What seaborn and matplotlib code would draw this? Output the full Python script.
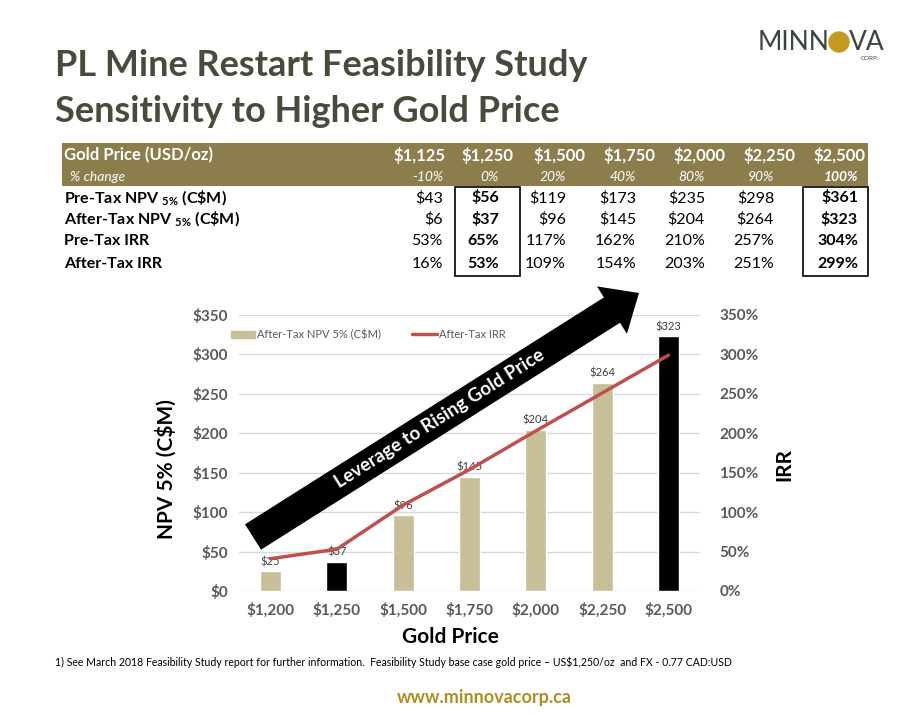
import matplotlib
matplotlib.use("Agg")
import matplotlib.pyplot as plt
from matplotlib.patches import Rectangle, Patch, Circle
from matplotlib.lines import Line2D
from matplotlib.ticker import FuncFormatter
import seaborn as sns
import numpy as np

# ---- chart data ----
chart_prices = ["$1,200", "$1,250", "$1,500", "$1,750", "$2,000", "$2,250", "$2,500"]
after_tax_npv = [25, 37, 96, 145, 204, 264, 323]
after_tax_irr = [41, 53, 109, 154, 203, 251, 299]
highlight = ["$1,250", "$2,500"]

# ---- table data ----
table_prices = ["$1,125", "$1,250", "$1,500", "$1,750", "$2,000", "$2,250", "$2,500"]
pct_change = ["-10%", "0%", "20%", "40%", "80%", "90%", "100%"]
pre_tax_npv_tbl = [43, 56, 119, 173, 235, 298, 361]
after_tax_npv_tbl = [6, 37, 96, 145, 204, 264, 323]
pre_tax_irr_tbl = [53, 65, 117, 162, 210, 257, 304]
after_tax_irr_tbl = [16, 53, 109, 154, 203, 251, 299]
bold_cols = [1, 6]

TAN = "#c8be98"
RED = "#c0504d"
OLIVE = "#8b7e4c"
TITLE = "#4a4a3c"
GRAY = "#595959"

sns.set_theme(style="whitegrid")
plt.rcParams["font.family"] = ["Lato", "DejaVu Sans"]
plt.rcParams["mathtext.default"] = "regular"

W, H = 914, 717
fig = plt.figure(figsize=(W / 100, H / 100), dpi=100)

# ---- chart ----
ax = fig.add_axes([239 / W, 1 - 591 / H, 461 / W, 276 / H])
colors = ["black" if p in highlight else TAN for p in chart_prices]
sns.barplot(x=chart_prices, y=after_tax_npv, hue=chart_prices, palette=colors,
            legend=False, width=0.32, saturation=1, ax=ax)
for c in ax.containers:
    ax.bar_label(c, fmt="${:.0f}", padding=3, fontsize=8, color="#404040")
ax.set_ylim(0, 350)
ax.set_yticks(np.arange(0, 351, 50))
ax.yaxis.set_major_formatter(FuncFormatter(lambda v, p: f"${v:.0f}"))
ax.grid(axis="x", visible=False)
ax.grid(axis="y", color="#d9d9d9", lw=1)
for s in ax.spines.values():
    s.set_visible(False)
ax.tick_params(length=0, labelsize=11, colors=GRAY, pad=8)
for t in ax.get_xticklabels() + ax.get_yticklabels():
    t.set_fontweight("bold")
ax.set_ylabel("NPV 5% (C$M)", fontsize=15, fontweight="bold", color="black")
ax.yaxis.set_label_coords((177 - 239) / 461, 0.44)
ax.set_xlabel("Gold Price", fontsize=15, fontweight="bold", color="black")
ax.xaxis.set_label_coords((450 - 239) / 461, -0.13)

ax2 = ax.twinx()
sns.lineplot(x=np.arange(len(after_tax_irr)), y=after_tax_irr, color=RED, lw=2.5, ax=ax2)
ax2.set_ylim(0, 350)
ax2.set_yticks(np.arange(0, 351, 50))
ax2.yaxis.set_major_formatter(FuncFormatter(lambda v, p: f"{v:.0f}%"))
ax2.grid(False)
for s in ax2.spines.values():
    s.set_visible(False)
ax2.tick_params(length=0, labelsize=11, colors=GRAY, pad=14)
for t in ax2.get_yticklabels():
    t.set_fontweight("bold")
ax2.set_ylabel("IRR", fontsize=15, fontweight="bold", color="black")
ax2.yaxis.set_label_coords((774 - 239) / 461, 0.457)

handles = [Patch(color=TAN), Line2D([0], [0], color=RED, lw=2.5)]
leg = ax2.legend(handles, ["After-Tax NPV 5% (C$M)", "After-Tax IRR"], ncol=2,
                 loc="upper left", bbox_to_anchor=(-0.04, 0.985), frameon=False,
                 fontsize=8, handlelength=2.2, handletextpad=0.2, columnspacing=2.8)
for t in leg.get_texts():
    t.set_color(GRAY)

# ---- overlay in pixel coordinates ----
ov = fig.add_axes([0, 0, 1, 1], zorder=5)
ov.set_xlim(0, W)
ov.set_ylim(H, 0)
ov.axis("off")
ov.patch.set_alpha(0)

# title
ov.text(55, 66, "PL Mine Restart Feasibility Study", fontsize=26, fontweight="bold",
        color=TITLE, va="center")
ov.text(55, 112, "Sensitivity to Higher Gold Price", fontsize=26, fontweight="bold",
        color=TITLE, va="center")

# logo
ov.text(829, 42, "MINN", fontsize=19, color="#3d4540", ha="right", va="center")
ov.add_patch(Circle((839, 42), 10, color="#c49a1c"))
ov.text(849, 42, "VA", fontsize=19, color="#3d4540", ha="left", va="center")
ov.text(879, 59, "CORP.", fontsize=4.5, color="#3d4540", ha="right", va="center")

# table
ov.add_patch(Rectangle((62, 143), 806, 43, color=OLIVE, lw=0))
head_x = [446, 514, 586, 656, 725, 795, 866]
val_x = [443, 499, 566, 636, 705, 774, 858]
ov.text(64, 155, "Gold Price (USD/oz)", fontsize=12, fontweight="bold", color="white", va="center")
ov.text(70, 177, "% change", fontsize=10, style="italic", color="white", va="center")
for i in range(len(table_prices)):
    ov.text(head_x[i], 155, table_prices[i], fontsize=12, fontweight="bold",
            color="white", ha="right", va="center")
    ov.text(val_x[i], 177, pct_change[i], fontsize=10, style="italic", color="white",
            ha="right", va="center", fontweight="bold" if i == 6 else "normal")

rows = [
    (r"Pre-Tax NPV $_{5\%}$ (C\$M)", pre_tax_npv_tbl, "${}"),
    (r"After-Tax NPV $_{5\%}$ (C\$M)", after_tax_npv_tbl, "${}"),
    ("Pre-Tax IRR", pre_tax_irr_tbl, "{}%"),
    ("After-Tax IRR", after_tax_irr_tbl, "{}%"),
]
row_y = [198, 219, 241, 264]
for (label, vals, fmt), y in zip(rows, row_y):
    ov.text(64, y, label, fontsize=11.5, fontweight="bold", color="black", va="center")
    for i, v in enumerate(vals):
        ov.text(val_x[i], y, fmt.format(v), fontsize=11.5, color="black", ha="right",
                va="center", fontweight="bold" if i in bold_cols else "normal")
ov.add_patch(Rectangle((455, 187), 65, 89, fill=False, ec="black", lw=1.2))
ov.add_patch(Rectangle((803, 187), 65, 89, fill=False, ec="black", lw=1.2))

# arrow
ov.arrow(253, 537, 386, -244, width=30, head_width=56, head_length=32,
         length_includes_head=True, color="black", lw=0)
ov.text(440, 419, "Leverage to Rising Gold Price", rotation=32.3, rotation_mode="anchor",
        fontsize=13.5, fontweight="bold", color="white", ha="center", va="center")

# footer
ov.text(55, 662, "1) See March 2018 Feasibility Study report for further information.  "
        "Feasibility Study base case gold price \u2013 US$1,250/oz  and FX - 0.77 CAD:USD",
        fontsize=7.6, color="black", va="center")
ov.text(484, 697, "www.minnovacorp.ca", fontsize=13, fontweight="bold", color="#b08d1e",
        ha="center", va="center")

fig.savefig("out.png", dpi=100)
